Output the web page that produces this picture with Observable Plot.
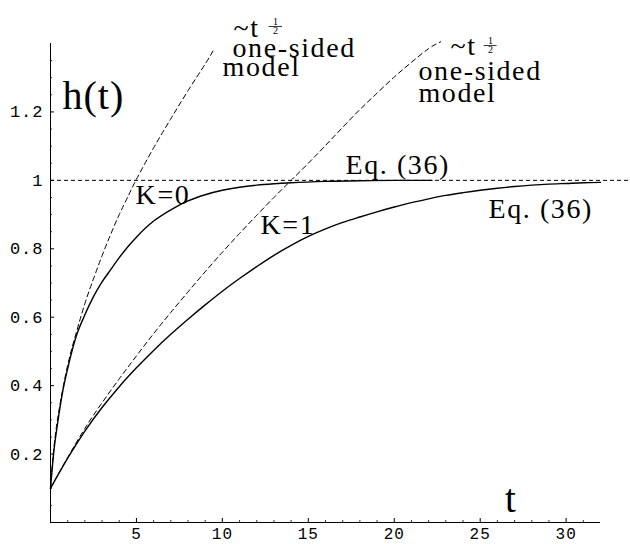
<!DOCTYPE html>
<html><head><meta charset="utf-8">
<script src="https://cdn.jsdelivr.net/npm/d3@7"></script>
<script src="https://cdn.jsdelivr.net/npm/@observablehq/plot@0.6"></script>
<style>
body{margin:0;background:#fff;}
#chart svg{display:block;}
g[aria-label="x-axis tick label"] text, g[aria-label="y-axis tick label"] text{letter-spacing:1px;}
g[font-size="40"] text{letter-spacing:1px;}
g[font-size="28"] text{letter-spacing:1.6px;}
</style></head><body><div id="chart"></div>
<script>
// K=0 solution (Eq. 36)
const tK0 = [0, 0.2, 0.4, 0.7, 1.0, 1.5, 2.0, 2.5, 3.0, 3.5, 4.0, 4.5, 5, 6, 7, 8, 9, 10, 11, 12, 13, 14, 16, 18, 20, 22.2];
const hK0 = [0.10, 0.21, 0.285, 0.38, 0.45, 0.545, 0.607, 0.66, 0.703, 0.739, 0.774, 0.806, 0.834, 0.881, 0.914, 0.94, 0.958, 0.971, 0.98, 0.986, 0.99, 0.993, 0.997, 0.999, 1.0, 1.0];
// K=1 solution (Eq. 36)
const tK1 = [0, 1, 2, 3, 4, 5, 6, 7, 8, 9, 10, 11, 12, 13, 14, 15, 16, 17, 18, 19, 20, 21, 22, 23, 24, 25, 26, 27, 28, 29, 30, 31, 32];
const hK1 = [0.10, 0.188, 0.267, 0.336, 0.397, 0.452, 0.503, 0.55, 0.594, 0.636, 0.676, 0.713, 0.748, 0.781, 0.81, 0.836, 0.858, 0.877, 0.893, 0.908, 0.922, 0.935, 0.946, 0.956, 0.964, 0.971, 0.977, 0.982, 0.986, 0.989, 0.991, 0.993, 0.994];
// ~t^1/2 one-sided model, K=0
const tD0 = [0, 0.2, 0.5, 1, 1.5, 2, 2.5, 3, 3.5, 4, 4.5, 5, 6, 7, 8, 9, 9.45];
const hD0 = [0.10, 0.22, 0.33, 0.46, 0.555, 0.64, 0.712, 0.78, 0.842, 0.9, 0.952, 1.003, 1.095, 1.18, 1.262, 1.34, 1.378];
// ~t^1/2 one-sided model, K=1
const tD1 = [0, 1, 2, 3, 4, 5, 6, 7, 8, 9, 10, 11, 12, 13, 14, 15, 16, 17, 18, 19, 20, 21, 22, 22.7];
const hD1 = [0.10, 0.19, 0.275, 0.35, 0.42, 0.487, 0.552, 0.614, 0.674, 0.733, 0.79, 0.845, 0.898, 0.95, 1.0, 1.05, 1.102, 1.155, 1.207, 1.255, 1.302, 1.345, 1.385, 1.405];
// axes
const xTicks = [5, 10, 15, 20, 25, 30];
const xMinor = d3.range(1, 32).filter(d => d % 5 !== 0);
const yTicks = [0.2, 0.4, 0.6, 0.8, 1, 1.2];
const yMinor = d3.range(1, 28).map(d => d * 0.05).filter(d => Math.abs(d / 0.2 - Math.round(d / 0.2)) > 1e-6);
const saturation = 1;

const mk = (ts, hs) => ts.map((t, i) => ({t, h: hs[i]}));
const serif = "Liberation Serif, Times New Roman, serif";
const lbl = (x, y, text, size, anchor) => Plot.text([{x, y, text}], {
  x: "x", y: "y", text: "text", textAnchor: anchor || "start", lineAnchor: "bottom",
  fontFamily: serif, fontSize: size, fill: "#000"
});

const chart = Plot.plot({
  width: 630, height: 544,
  marginLeft: 50, marginRight: 30, marginTop: 43, marginBottom: 22,
  x: {domain: [0, 32]},
  y: {domain: [0, 1.4]},
  style: {background: "#fff"},
  marks: [
    Plot.ruleY([0], {stroke: "#000", strokeWidth: 1}),
    Plot.ruleX([0], {stroke: "#000", strokeWidth: 1}),
    Plot.tickX(xTicks, {x: d => d, insetTop: 475, stroke: "#000"}),
    Plot.tickX(xMinor, {x: d => d, insetTop: 477, stroke: "#000", strokeWidth: 0.8}),
    Plot.tickY(yTicks, {y: d => d, insetRight: 546, stroke: "#000"}),
    Plot.tickY(yMinor, {y: d => d, insetRight: 548, stroke: "#000", strokeWidth: 0.8}),
    Plot.axisX({ticks: xTicks, tickSize: 0, tickPadding: 5, tickFormat: d => String(d), label: null,
      fontFamily: "Liberation Mono, Courier New, monospace", fontSize: 16, fill: "#000"}),
    Plot.axisY({ticks: yTicks, tickSize: 0, tickPadding: 7, tickFormat: d => String(d), label: null,
      fontFamily: "Liberation Mono, Courier New, monospace", fontSize: 17, fill: "#000"}),
    Plot.ruleY([saturation], {x1: 0, x2: 33.7, stroke: "#000", strokeWidth: 1, strokeDasharray: "4,3"}),
    Plot.line(mk(tD0, hD0), {x: "t", y: "h", stroke: "#000", strokeWidth: 1, strokeDasharray: "5,3.5", curve: "natural"}),
    Plot.line(mk(tD1, hD1), {x: "t", y: "h", stroke: "#000", strokeWidth: 1, strokeDasharray: "5,3.5", curve: "natural"}),
    Plot.line(mk(tK0, hK0), {x: "t", y: "h", stroke: "#000", strokeWidth: 1.4, curve: "monotone-x"}),
    Plot.line(mk(tK1, hK1), {x: "t", y: "h", stroke: "#000", strokeWidth: 1.4, curve: "monotone-x"}),
    lbl(0.70, 1.210, "h(t)", 40),
    lbl(26.76, 0.032, "t", 39, "middle"),
    lbl(4.95, 0.932, "K=0", 28),
    lbl(12.22, 0.842, "K=1", 28),
    lbl(17.16, 1.019, "Eq. (36)", 28),
    lbl(25.48, 0.889, "Eq. (36)", 28),
    lbl(10.65, 1.420, "~t", 28),
    lbl(10.59, 1.362, "one-sided", 28),
    lbl(10.01, 1.304, "model", 28),
    lbl(13.09, 1.4555, "1", 10, "middle"),
    lbl(13.09, 1.428, "2", 10, "middle"),
    Plot.ruleY([1.4497], {x1: 12.72, x2: 13.5, stroke: "#000", strokeWidth: 0.8}),
    lbl(23.27, 1.365, "~t", 28),
    lbl(21.41, 1.292, "one-sided", 28),
    lbl(21.41, 1.228, "model", 28),
    lbl(25.6, 1.400, "1", 10, "middle"),
    lbl(25.6, 1.372, "2", 10, "middle"),
    Plot.ruleY([1.394], {x1: 25.23, x2: 25.98, stroke: "#000", strokeWidth: 0.8})
  ]
});
document.getElementById("chart").appendChild(chart);
</script></body></html>
